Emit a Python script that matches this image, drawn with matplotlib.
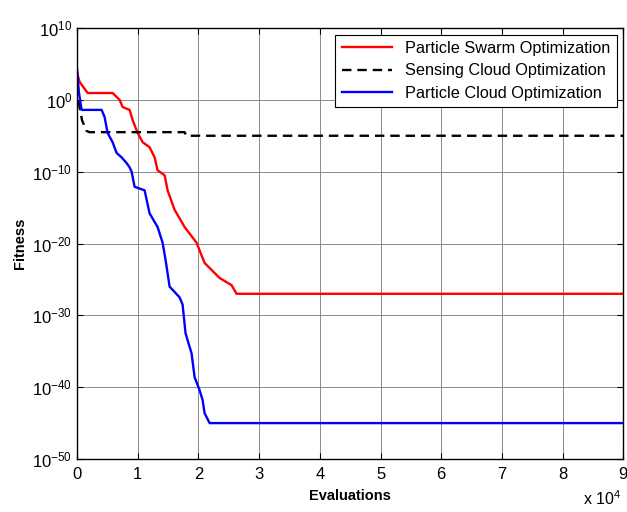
import numpy as np
import matplotlib
matplotlib.use("Agg")
import matplotlib.pyplot as plt

plt.rcParams["font.family"] = ["Liberation Sans", "DejaVu Sans"]
plt.rcParams["mathtext.fontset"] = "custom"
plt.rcParams["mathtext.rm"] = "Liberation Sans"

# ===== DATA (log10 of fitness vs evaluations) =====
pso_x = [0, 410, 1730, 5850, 7000, 7500, 8650, 9140, 9970, 10800, 11940, 12770,
         13260, 14420, 14910, 16060, 17710, 19690, 21000, 23480, 25450, 26280, 90000]
pso_log = [3.7, 2.5, 0.95, 0.95, 0, -1, -1.4, -2.8, -4.6, -5.9, -6.6, -8,
           -9.8, -10.5, -12.6, -15.3, -17.7, -19.9, -22.7, -24.8, -25.8, -27, -27]

sco_x = [0, 400, 800, 1500, 2000, 17700, 18000, 90000]
sco_log = [2, -1, -2.8, -4.3, -4.5, -4.5, -5.0, -5.0]

pco_x = [0, 300, 740, 4040, 4530, 5020, 5850, 6510, 7330, 8150, 8650, 8980, 9470,
         11120, 11940, 13260, 14090, 14580, 15240, 16890, 17380, 17870, 18860,
         19360, 20180, 20680, 21000, 21830, 90000]
pco_log = [4.2, 1.0, -1.4, -1.4, -2.4, -4.6, -5.9, -7.4, -8, -8.8, -9.4, -10, -12.1,
           -12.6, -15.8, -17.7, -19.9, -22.3, -26, -27.5, -28.5, -32.5, -35.3,
           -38.6, -40.4, -41.8, -43.6, -45, -45]

x_ticks = [0, 1, 2, 3, 4, 5, 6, 7, 8, 9]
y_exps = [-50, -40, -30, -20, -10, 0, 10]

# ===== PLOT =====
fig = plt.figure(figsize=(6.27, 5.12), dpi=100)
ax = fig.add_axes([0.123, 0.1035, 0.871, 0.8418])

ax.semilogy(np.array(pso_x), 10.0 ** np.array(pso_log), color="red", lw=1.7,
            label="Particle Swarm Optimization")
ax.semilogy(np.array(sco_x), 10.0 ** np.array(sco_log), color="black", lw=1.7,
            ls=(0, (4, 2.5)), label="Sensing Cloud Optimization")
ax.semilogy(np.array(pco_x), 10.0 ** np.array(pco_log), color="blue", lw=1.7,
            label="Particle Cloud Optimization")

ax.set_xlim(0, 90000)
ax.set_ylim(1e-50, 1e10)
ax.set_xticks([t * 1e4 for t in x_ticks])
ax.set_xticklabels([str(t) for t in x_ticks])
ax.set_yticks([10.0 ** e for e in y_exps])
ax.set_yticklabels(["$\\mathregular{10^{%d}}$" % e for e in y_exps])
ax.minorticks_off()
ax.tick_params(direction="in", top=True, right=True, labelsize=12, length=4)
ax.tick_params(axis="x", pad=6)
ax.grid(True, color="#8a8a8a", lw=0.7)
for s in ax.spines.values():
    s.set_linewidth(1.0)

ax.set_xlabel("Evaluations", fontsize=10.5, fontweight="bold", labelpad=5)
ax.set_ylabel("Fitness", fontsize=10.5, fontweight="bold", labelpad=4)
fig.text(0.99, 0.008, "x $\\mathregular{10^{4}}$", ha="right", va="bottom", fontsize=11.5)

leg = ax.legend(loc="upper right", fontsize=11.7, fancybox=False, framealpha=1,
                edgecolor="black", borderaxespad=0.4, handlelength=3.1,
                borderpad=0.4, labelspacing=0.45)
leg.get_frame().set_linewidth(0.8)

plt.savefig("out.png", dpi=100)
plt.close()
